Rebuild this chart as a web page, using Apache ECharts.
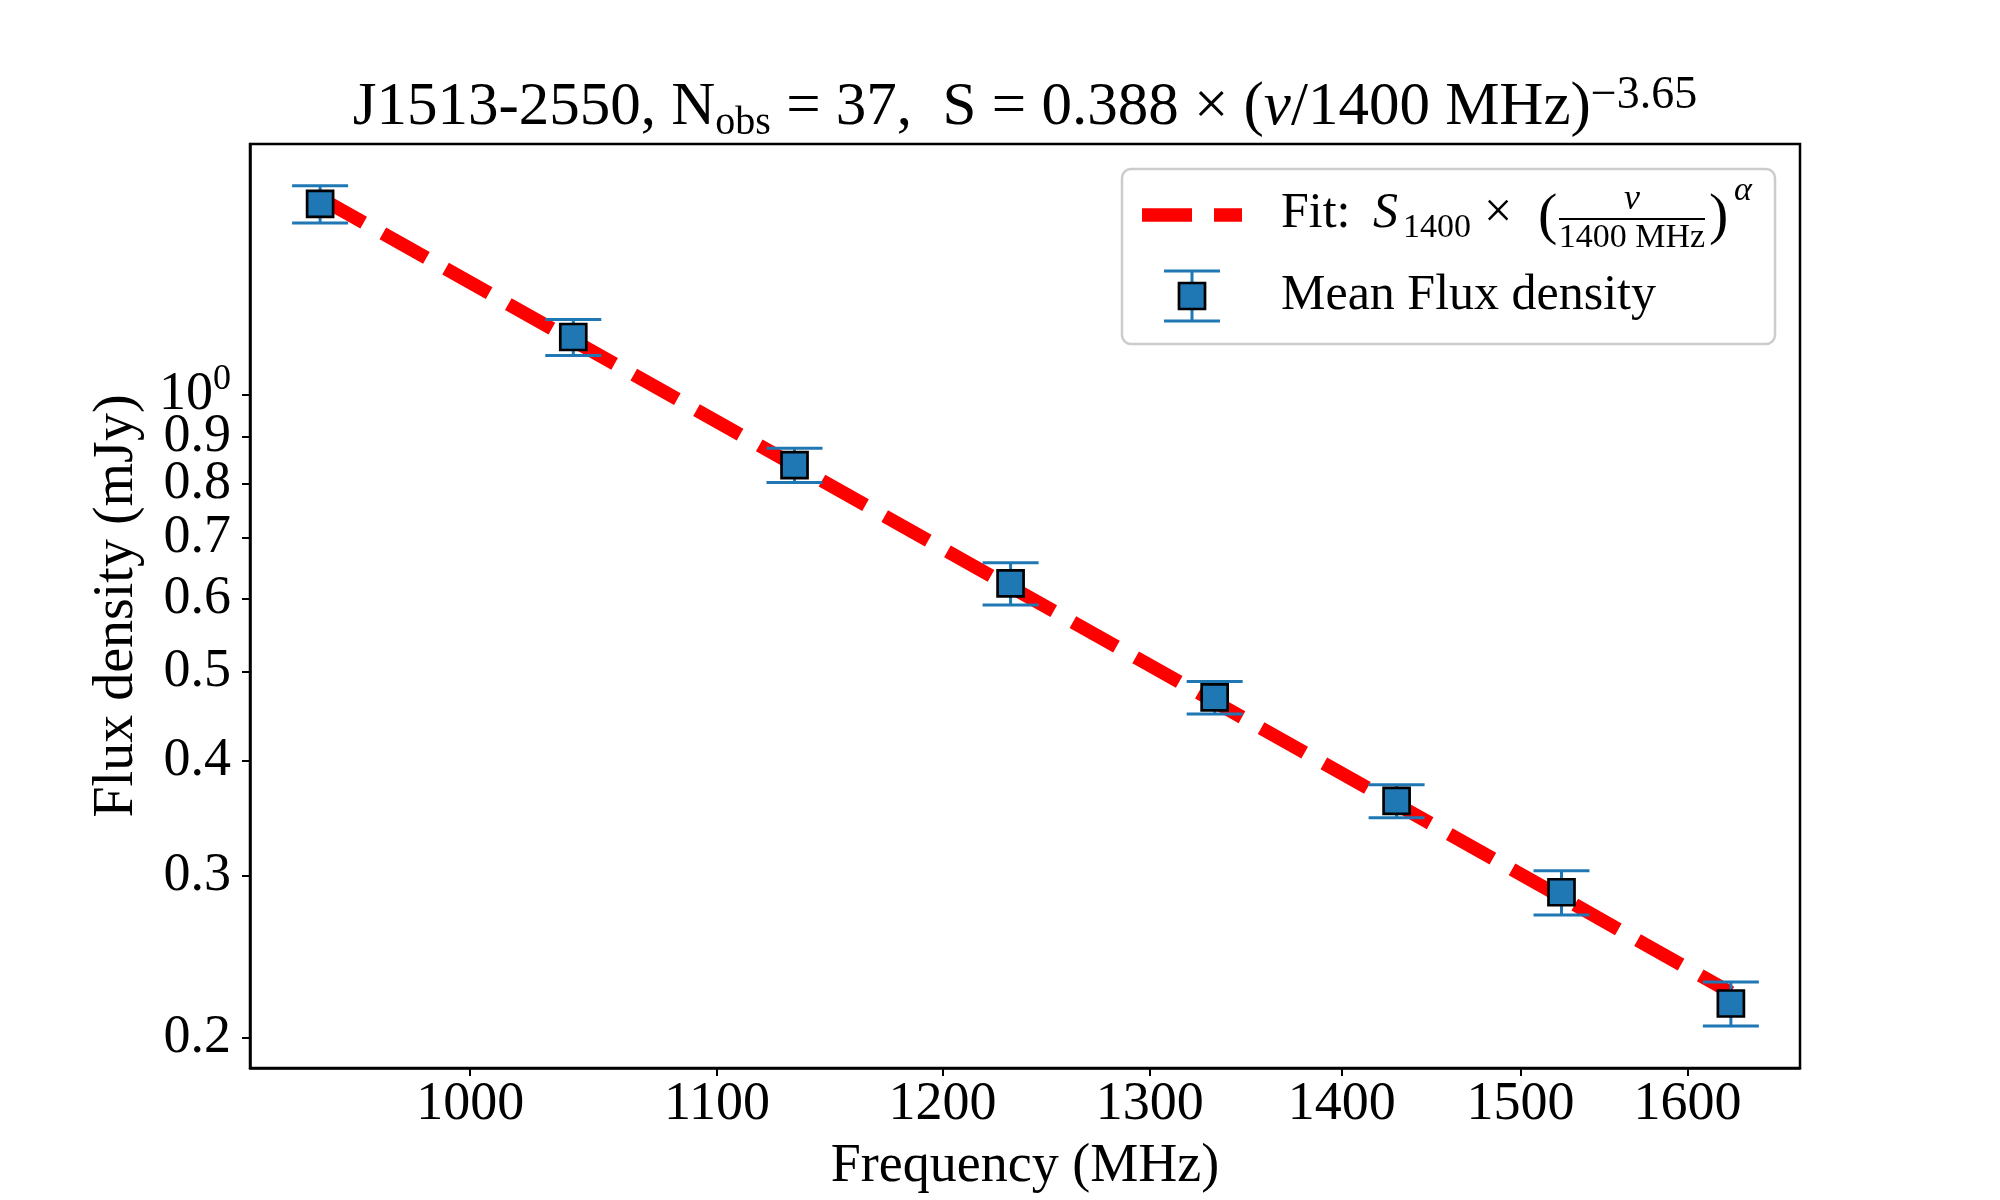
<!DOCTYPE html>
<html>
<head>
<meta charset="utf-8">
<title>J1513-2550 flux density spectrum</title>
<script src="https://cdn.jsdelivr.net/npm/echarts@6.0.0/dist/echarts.min.js"></script>
<style>
  html, body { margin: 0; padding: 0; background: #fff; }
  #echarts { width: 2000px; height: 1200px; }
</style>
</head>
<body>
<div id="echarts"></div>
<script type="text/javascript">
    // mean flux density per sub-band
    var freq     = [943.7, 1040.6, 1133.4, 1232.0, 1333.0, 1430.0, 1524.0, 1627.0];
    var flux     = [1.613, 1.156, 0.839, 0.624, 0.469, 0.362, 0.288, 0.218];
    var fluxErr  = [0.075, 0.052, 0.036, 0.033, 0.019, 0.015, 0.016, 0.012];

    // fitted power law, end points of the dashed line
    var fitFreq  = [943.7, 1627.0];
    var fitFlux  = [1.637, 0.224];

    // ticks and tick labels
    var xTicks   = [1000, 1100, 1200, 1300, 1400, 1500, 1600];
    var yTicks   = [0.2, 0.3, 0.4, 0.5, 0.6, 0.7, 0.8, 0.9, 1];
    // the labels sit closer than ECharts likes, so they are spread over
    // three overlaid axes (otherwise the end labels hide their neighbours)
    var yLabelsA = [0.2, 0.4, 0.6, 0.8];
    var yLabelsB = [0.3, 0.5, 0.7, 0.9];
    var yLabelsC = [1];

    var serif = '"Liberation Serif", "DejaVu Serif", serif';
    var blue = '#1f77b4';
    var yMin = 0.1855, yMax = 1.874;

    var points = [], bars = [], fitLine = [];
    for (var i = 0; i < freq.length; i++) {
        points.push([freq[i], flux[i]]);
        bars.push([freq[i], flux[i] - fluxErr[i], flux[i] + fluxErr[i]]);
    }
    for (var j = 0; j < fitFreq.length; j++) {
        fitLine.push([fitFreq[j], fitFlux[j]]);
    }

    function errorBar(params, api) {
        var x = api.value(0);
        var lo = api.coord([x, api.value(1)]);
        var hi = api.coord([x, api.value(2)]);
        var cw = 28;
        var st = { stroke: blue, lineWidth: 3 };
        return {
            type: 'group',
            children: [
                { type: 'line', shape: { x1: lo[0], y1: lo[1], x2: hi[0], y2: hi[1] }, style: st },
                { type: 'line', shape: { x1: lo[0] - cw, y1: lo[1], x2: lo[0] + cw, y2: lo[1] }, style: st },
                { type: 'line', shape: { x1: hi[0] - cw, y1: hi[1], x2: hi[0] + cw, y2: hi[1] }, style: st }
            ]
        };
    }

    // legend is drawn by hand because of the stacked fraction
    // y is the baseline, text is placed by its middle
    function txt(x, y, s, size, extra) {
        var style = { x: x, y: y - 0.34 * size, text: s, fontSize: size,
                      fontFamily: serif, fill: '#000', verticalAlign: 'middle' };
        if (extra) for (var k in extra) style[k] = extra[k];
        return { type: 'text', style: style, z: 20 };
    }
    var legendItems = [
        { type: 'rect', shape: { x: 1122, y: 169, width: 653, height: 175, r: 9 },
          style: { fill: 'rgba(255,255,255,0.85)', stroke: '#cccccc', lineWidth: 2.5 }, z: 19 },
        { type: 'line', shape: { x1: 1142, y1: 215, x2: 1242, y2: 215 },
          style: { stroke: '#ff0000', lineWidth: 13.5, lineDash: [50, 22], lineCap: 'butt' }, z: 20 },
        txt(1281, 231, 'Fit:', 50),
        txt(1373, 231, 'S', 50, { fontStyle: 'italic' }),
        txt(1403, 240, '1400', 34),
        txt(1484, 231, '×', 50),
        txt(1538, 237, '(', 58),
        txt(1632, 212, 'ν', 36, { fontStyle: 'italic', align: 'center' }),
        { type: 'line', shape: { x1: 1559, y1: 219, x2: 1705, y2: 219 },
          style: { stroke: '#000', lineWidth: 2 }, z: 20 },
        txt(1632, 250, '1400 MHz', 34, { align: 'center' }),
        txt(1709, 237, ')', 58),
        txt(1734, 203, 'α', 34, { fontStyle: 'italic' }),
        txt(1281, 313, 'Mean Flux density', 50),
        { type: 'line', shape: { x1: 1192, y1: 271, x2: 1192, y2: 321 },
          style: { stroke: blue, lineWidth: 3 }, z: 20 },
        { type: 'line', shape: { x1: 1164, y1: 271, x2: 1220, y2: 271 },
          style: { stroke: blue, lineWidth: 3 }, z: 20 },
        { type: 'line', shape: { x1: 1164, y1: 321, x2: 1220, y2: 321 },
          style: { stroke: blue, lineWidth: 3 }, z: 20 },
        { type: 'rect', shape: { x: 1179, y: 283, width: 26, height: 26 },
          style: { fill: blue, stroke: '#000', lineWidth: 2.7 }, z: 21 }
    ];

    var tickStyle = { show: true, inside: false, length: 8, lineStyle: { color: '#000', width: 2 } };

    function yLabelText(v) {
        if (Math.abs(v - 1) < 1e-9) return '{m|10}{p|0}';
        return String(Math.round(v * 10) / 10);
    }

    // an extra left axis on the same log scale that only carries labels
    function labelAxis(values) {
        return {
            type: 'log',
            logBase: 10,
            min: yMin,
            max: yMax,
            position: 'left',
            offset: 0,
            axisLine: { show: false },
            axisTick: { show: false },
            axisLabel: {
                fontFamily: serif, fontSize: 54, color: '#000', margin: 19, customValues: values,
                showMinLabel: true, showMaxLabel: true, hideOverlap: false,
                formatter: yLabelText,
                rich: {
                    m: { fontFamily: serif, fontSize: 54, lineHeight: 30, color: '#000', verticalAlign: 'middle' },
                    p: { fontFamily: serif, fontSize: 36, lineHeight: 30, color: '#000', verticalAlign: 'bottom', padding: [0, 0, 12, 0] }
                }
            },
            splitLine: { show: false },
            minorTick: { show: false }
        };
    }

    var mainY = labelAxis(yLabelsA);
    mainY.name = 'Flux density (mJy)';
    mainY.nameLocation = 'middle';
    mainY.nameGap = 105;
    mainY.nameRotate = 90;
    mainY.nameTextStyle = { fontFamily: serif, fontSize: 56, color: '#000' };
    mainY.axisLine = { show: true, lineStyle: { color: '#000', width: 2.5 } };
    mainY.axisTick = Object.assign({ customValues: yTicks }, tickStyle);

    var option = {
        animation: false,
        backgroundColor: '#ffffff',
        title: {
            left: 1020,
            textAlign: 'center',
            top: 68,
            text: '{m|J1513-2550, N}{sub|obs}{m| = 37,  S = 0.388 × (}{i|ν}{m|/1400 MHz)}{sup|−3.65}',
            textStyle: {
                fontFamily: serif,
                fontWeight: 'normal',
                rich: {
                    m:   { fontFamily: serif, fontWeight: 'normal', fontSize: 61, lineHeight: 70, color: '#000', verticalAlign: 'middle' },
                    i:   { fontFamily: serif, fontWeight: 'normal', fontSize: 61, lineHeight: 70, color: '#000', fontStyle: 'italic', verticalAlign: 'middle' },
                    sub: { fontFamily: serif, fontWeight: 'normal', fontSize: 40, lineHeight: 44, color: '#000', verticalAlign: 'bottom' },
                    sup: { fontFamily: serif, fontWeight: 'normal', fontSize: 46, lineHeight: 20, color: '#000', verticalAlign: 'top' }
                }
            }
        },
        grid: {
            left: 250, right: 200, top: 144, bottom: 132,
            show: true, borderColor: '#000', borderWidth: 2.5
        },
        xAxis: {
            type: 'log',
            logBase: 10,
            min: 918.5,
            max: 1671,
            name: 'Frequency (MHz)',
            nameLocation: 'middle',
            nameGap: 72,
            nameTextStyle: { fontFamily: serif, fontSize: 54, color: '#000' },
            axisLine: { show: true, lineStyle: { color: '#000', width: 2.5 } },
            axisTick: Object.assign({ customValues: xTicks }, tickStyle),
            axisLabel: { fontFamily: serif, fontSize: 54, color: '#000', margin: 10, customValues: xTicks,
                showMinLabel: true, showMaxLabel: true, hideOverlap: false,
                formatter: function (v) { return String(Math.round(v)); } },
            splitLine: { show: false },
            minorTick: { show: false }
        },
        yAxis: [mainY, labelAxis(yLabelsB), labelAxis(yLabelsC)],
        graphic: legendItems,
        series: [
            {
                name: 'Fit',
                type: 'line',
                data: fitLine,
                symbol: 'none',
                z: 2,
                lineStyle: { color: '#ff0000', width: 13.5, type: [50, 22], cap: 'butt' }
            },
            {
                name: 'Error',
                type: 'custom',
                data: bars,
                encode: { x: 0, y: [1, 2] },
                renderItem: errorBar,
                z: 3
            },
            {
                name: 'Mean Flux density',
                type: 'scatter',
                data: points,
                symbol: 'rect',
                symbolSize: 26,
                z: 4,
                itemStyle: { color: blue, borderColor: '#000', borderWidth: 2.7, opacity: 1 }
            }
        ]
    };

    var myChart = echarts.init(document.getElementById('echarts'));
    myChart.setOption(option);
</script>
</body>
</html>
